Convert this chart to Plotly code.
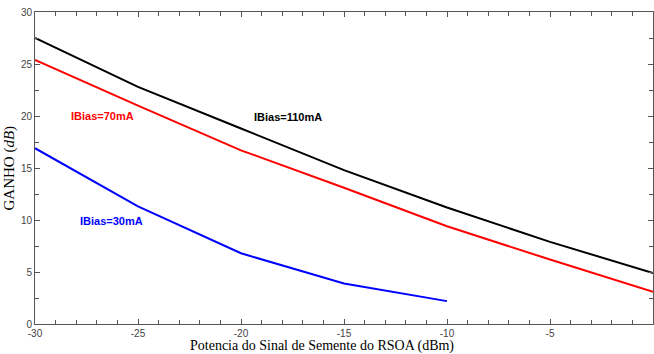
import plotly.graph_objects as go

x_vals = [-30, -25, -20, -15, -10, -5, 0]
ganho_110 = [27.5, 22.8, 18.8, 14.8, 11.2, 7.9, 4.9]
ganho_70 = [25.4, 21.0, 16.7, 13.1, 9.4, 6.2, 3.1]
x_30 = [-30, -25, -20, -15, -10]
ganho_30 = [16.9, 11.3, 6.8, 3.9, 2.2]
x_ticks = [-30, -25, -20, -15, -10, -5, 0]
x_tick_labels = ["-30", "-25", "-20", "-15", "-10", "-5", "0"]
y_ticks = [0, 5, 10, 15, 20, 25, 30]
y_tick_labels = ["0", "5", "10", "15", "20", "25", "30"]

fig = go.Figure()
fig.add_trace(go.Scatter(x=x_vals, y=ganho_110, mode="lines", line=dict(color="black", width=2)))
fig.add_trace(go.Scatter(x=x_vals, y=ganho_70, mode="lines", line=dict(color="#ff0000", width=2)))
fig.add_trace(go.Scatter(x=x_30, y=ganho_30, mode="lines", line=dict(color="#0000ff", width=2)))

ann_font = dict(family="Liberation Sans", size=11)
fig.add_annotation(x=-26.7, y=20.0, text="<b>IBias=70mA</b>", showarrow=False, font=dict(color="#ff0000", **ann_font))
fig.add_annotation(x=-17.7, y=19.9, text="<b>IBias=110mA</b>", showarrow=False, font=dict(color="black", **ann_font))
fig.add_annotation(x=-26.3, y=9.9, text="<b>IBias=30mA</b>", showarrow=False, font=dict(color="#0000ff", **ann_font))

# axis titles
fig.add_annotation(x=0.5, y=0, xref="paper", yref="paper", xshift=-22, yshift=-12, yanchor="top",
                   text="Potencia do Sinal de Semente do RSOA (dBm)", showarrow=False,
                   font=dict(family="Liberation Serif", size=14, color="black"))
fig.add_annotation(x=0, y=0.5, xref="paper", yref="paper", xshift=-16, xanchor="right",
                   text="GANHO (<i>dB</i>)", showarrow=False, textangle=-90,
                   font=dict(family="Liberation Serif", size=15, color="black"))

axis_common = dict(
    showgrid=False, zeroline=False, showline=True, linecolor="#555555", linewidth=1,
    mirror="ticks", ticks="inside", ticklen=5, tickcolor="#555555", automargin=False,
    tickfont=dict(family="Liberation Sans", size=10, color="#444444"),
)
fig.update_xaxes(range=[-30, 0], tickmode="array", tickvals=x_ticks, ticktext=x_tick_labels,
                 minor=dict(ticks="inside", dtick=1, tick0=0, ticklen=4, tickcolor="#555555"),
                 ticklabelstandoff=0,
                 **axis_common)
fig.update_yaxes(range=[0, 30], tickmode="array", tickvals=y_ticks, ticktext=y_tick_labels,
                 minor=dict(ticks="inside", dtick=2.5, tick0=0, ticklen=4, tickcolor="#555555"),
                 ticklabelstandoff=0,
                 **axis_common)
fig.update_layout(
    width=654, height=354, showlegend=False,
    margin=dict(l=35, r=1, t=12, b=30, autoexpand=False),
    plot_bgcolor="white", paper_bgcolor="white",
)
fig.write_html("out.html", config={"displayModeBar": False},
               post_script="document.body.style.margin='0';document.body.style.overflow='hidden';")
